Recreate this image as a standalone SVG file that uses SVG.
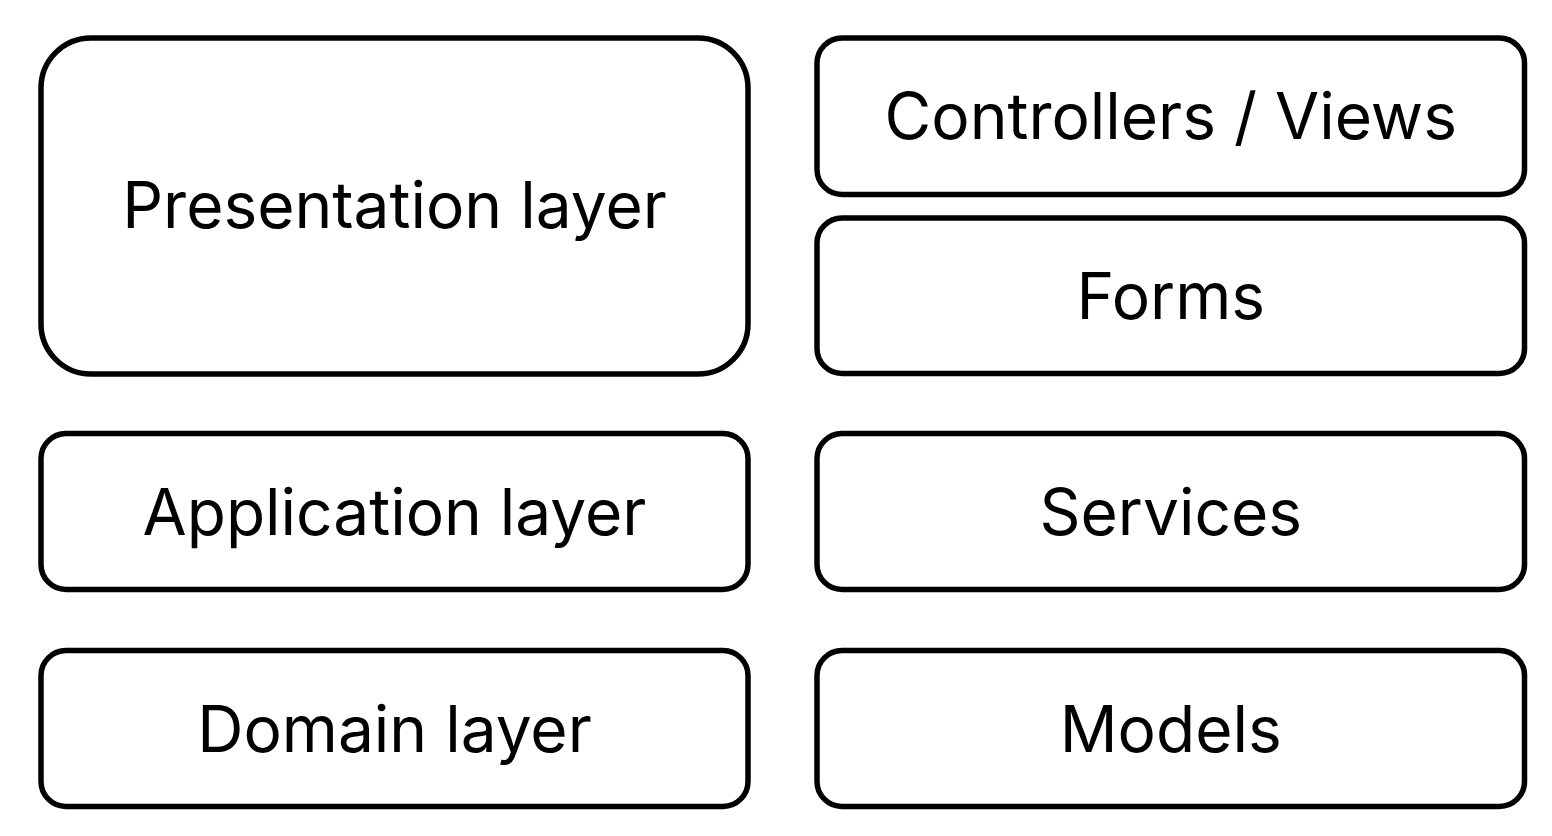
<svg xmlns="http://www.w3.org/2000/svg" width="1552" height="836" viewBox="0 0 1552 836">
<style>
.box{fill:#fff;stroke:#000;stroke-width:5.5}
.lbl{font-family:Inter,"Open Sans","Liberation Sans",sans-serif;font-size:64px;fill:#000;text-anchor:middle}
</style>
<rect width="1552" height="836" fill="#fff"/>
<g id="presentation"><rect class="box" x="41" y="38" width="707" height="336" rx="50"/><text class="lbl" x="394.5" y="228">Presentation layer</text></g>
<g id="controllers"><rect class="box" x="817" y="38" width="707.5" height="156.5" rx="25"/><text class="lbl" x="1170.75" y="139">Controllers / Views</text></g>
<g id="forms"><rect class="box" x="817" y="218" width="707.5" height="155.5" rx="25"/><text class="lbl" x="1170.75" y="319">Forms</text></g>
<g id="application"><rect class="box" x="41" y="433.5" width="707" height="156" rx="25"/><text class="lbl" x="394.5" y="534.5">Application layer</text></g>
<g id="services"><rect class="box" x="817" y="433.5" width="707.5" height="156" rx="25"/><text class="lbl" x="1170.75" y="534.5">Services</text></g>
<g id="domain"><rect class="box" x="41" y="650.5" width="707" height="156" rx="25"/><text class="lbl" x="394.5" y="751.5">Domain layer</text></g>
<g id="models"><rect class="box" x="817" y="650.5" width="707.5" height="156" rx="25"/><text class="lbl" x="1170.75" y="751.5">Models</text></g>
<g id="connectors"/>
</svg>
